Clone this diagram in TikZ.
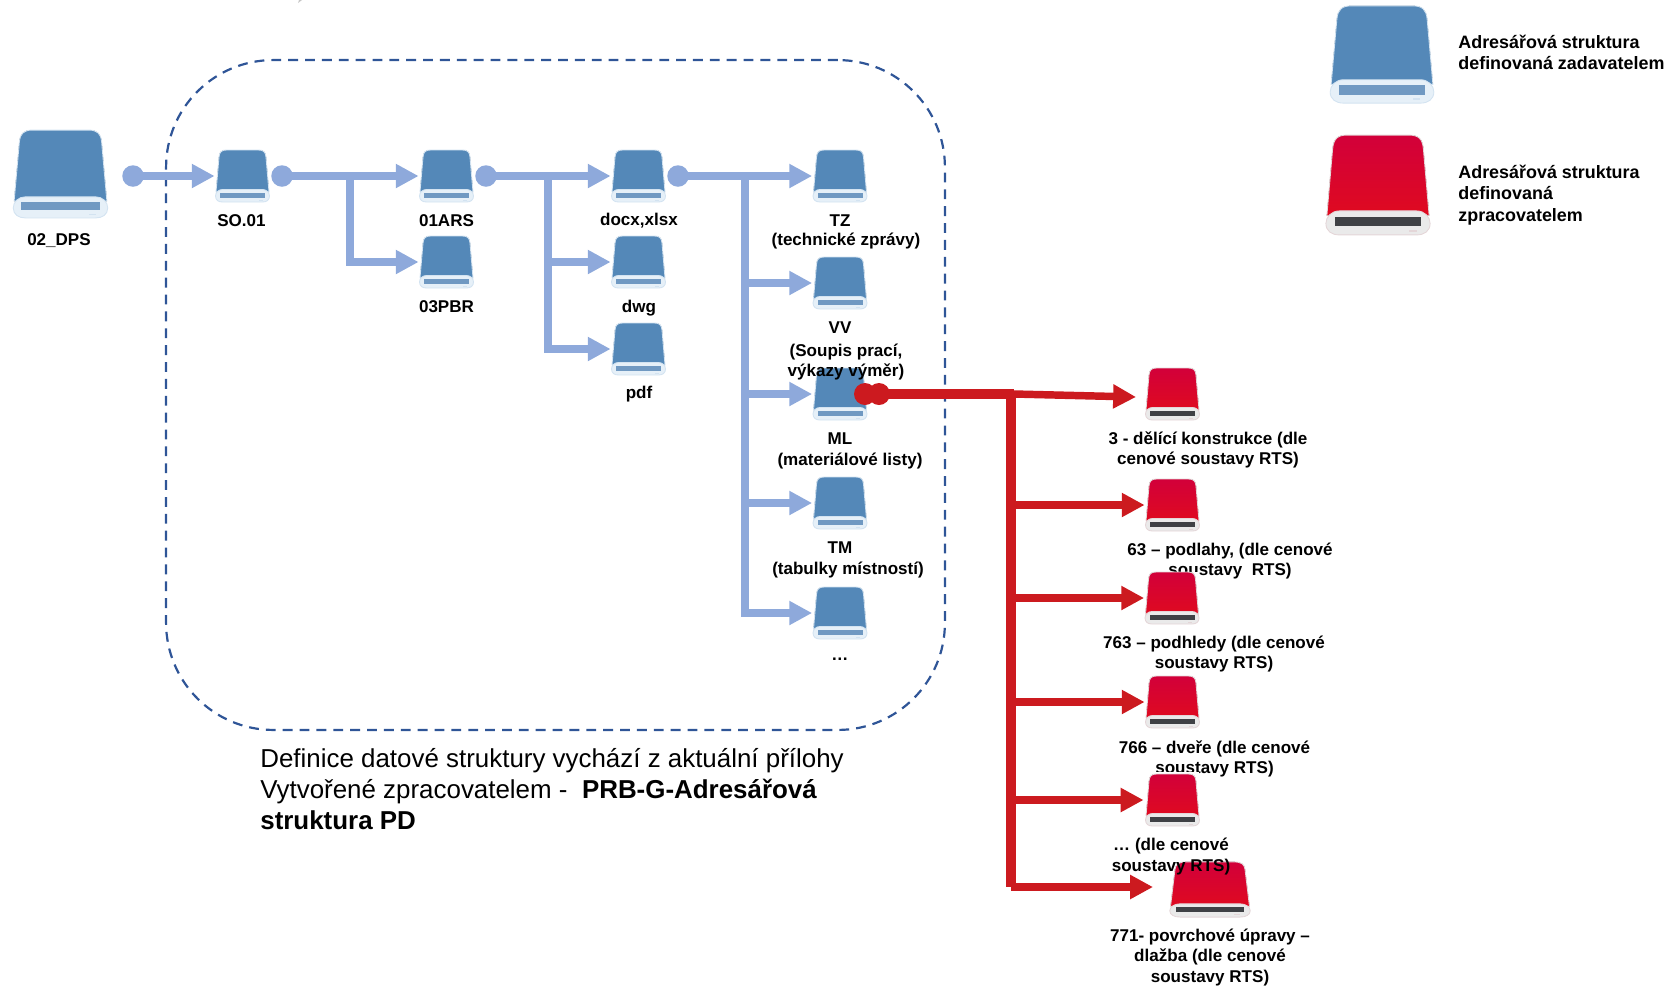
\documentclass[tikz,border=0pt]{standalone}
\usepackage{fontspec}
\setmainfont{Liberation Sans}
\usetikzlibrary{arrows.meta}

\definecolor{bodyb}{HTML}{5488B8}
\definecolor{glowb}{HTML}{5488B8}
\definecolor{trayb}{HTML}{E6F0F8}
\definecolor{slotb}{HTML}{7099C2}
\definecolor{edgeb}{HTML}{D3E3F1}
\definecolor{bodyr}{HTML}{D2003A}
\definecolor{glowr}{HTML}{DF0A20}
\definecolor{trayr}{HTML}{EAEAEA}
\definecolor{slotr}{HTML}{3F4145}
\definecolor{edger}{HTML}{E4D6D8}
\definecolor{linkb}{HTML}{8EA9DB}
\definecolor{linkr}{HTML}{CC1A1F}
\definecolor{framec}{HTML}{2F5597}

\tikzset{
    drivebox/.style={inner sep=0pt,minimum width=1.06cm,minimum height=1.04cm,transform shape},
    drivelabel/.style={inner sep=0pt,align=center,font=\fontsize{9.7}{11.6}\selectfont\bfseries},
    sidelabel/.style={drivelabel,anchor=west,align=left,font=\fontsize{10.2}{12.1}\selectfont\bfseries},
    dotb/.style={circle,fill=linkb,inner sep=0pt,minimum size=.43cm},
    dotr/.style={circle,fill=linkr,inner sep=0pt,minimum size=.44cm},
    linkblue/.style={draw=linkb,line width=4.25pt,-{Triangle[length=13pt,width=13pt]},shorten >=.6pt},
    linkred/.style={draw=linkr,line width=4.25pt,-{Triangle[length=13pt,width=13pt]}},
    trunkred/.style={draw=linkr,line width=5.7pt}
}

% #1 scales, #2 name, #3 position, #4 b or r
\newcommand{\drive}[4][]{
    \begin{scope}[shift={#3},#1]
        \fill[top color=body#4,bottom color=glow#4,draw=edge#4,line width=.5pt]
            (-26.5,16) -- (-23.5,-19) .. controls (-23,-24) and (-21,-26) .. (-16,-26)
            -- (16,-26) .. controls (21,-26) and (23,-24) .. (23.5,-19) -- (26.5,16) -- cycle;
        \fill[tray#4,draw=edge#4,line width=.5pt]
            (-20,13.5) -- (20,13.5) .. controls (24,13.5) and (27,16.5) .. (27,20)
            .. controls (27,24) and (24,26) .. (20,26) -- (-20,26)
            .. controls (-24,26) and (-27,24) .. (-27,20)
            .. controls (-27,16.5) and (-24,13.5) .. (-20,13.5) -- cycle;
        \fill[slot#4] (-22.5,16.5) rectangle (22.5,21.5);
        \fill[edge#4] (16,23.5) rectangle (20,24.5);
        \node[drivebox] (#2) at (0,0) {};
    \end{scope}
}

\begin{document}
\begin{tikzpicture}[x=.02cm,y=-.02cm]
        \useasboundingbox (0,0) rectangle (1677,985);

        % Frame
        \node[draw=framec,line width=1.25pt,dash pattern=on 5.6pt off 4pt,rounded corners=61pt,
              minimum width=15.58cm,minimum height=13.4cm,inner sep=0pt] (frame) at (555.5,395) {};
        \fill[gray!45] (298,3) -- (302,0) -- (299,0) -- cycle;

        % Labels the drives cut
        \node[drivelabel] (lbpodl) at (1230,561) {63 – podlahy, (dle cenové\\soustavy\ \ RTS)};
        \node[drivelabel] (lbdver) at (1214.5,759) {766 – dveře (dle cenové\\soustavy RTS)};
        \fill[white] (1145,571.5) rectangle (1199,575);
        \fill[white] (1146,772) rectangle (1199,776);

        % Blue drives
        \drive[xscale=1.75,yscale=1.69]{dps}{(60.5,174)}{b}
        \drive{so}{(242.5,176)}{b}
        \drive{ars}{(446.5,176)}{b}
        \drive{pbr}{(446.5,262)}{b}
        \drive{docx}{(638.5,176)}{b}
        \drive{dwg}{(638.5,262)}{b}
        \drive{pdf}{(638.5,349)}{b}
        \drive{tz}{(840,176)}{b}
        \drive{vv}{(840,283)}{b}
        \drive{ml}{(840,394)}{b}
        \drive{tm}{(840,503)}{b}
        \drive{dots}{(840,613)}{b}

        % Red drives
        \drive{del}{(1172.5,394)}{r}
        \drive{podl}{(1172.5,505)}{r}
        \drive{podh}{(1172,598)}{r}
        \drive{dver}{(1172.5,702)}{r}
        \drive{ost}{(1172.5,800)}{r}
        \drive[xscale=1.49,yscale=1.06]{pov}{(1210,889.5)}{r}

        % Legend
        \drive[xscale=1.92,yscale=1.87]{keyb}{(1382,54.5)}{b}
        \drive[xscale=1.93,yscale=1.92]{keyr}{(1378,185)}{r}

        % Dots
        \node[dotb] (d1) at (133,176) {};
        \node[dotb] (d2) at (282,176) {};
        \node[dotb] (d3) at (486,176) {};
        \node[dotb] (d4) at (678,176) {};
        \node[dotr] (r1) at (865,394) {};
        \node[dotr] (r2) at (879,394) {};

        \coordinate (j2) at (350,176);
        \coordinate (j3) at (548,176);
        \coordinate (j4) at (745,176);
        \coordinate (jr) at (1011,394);
        \coordinate (jrend) at (1011,887);
        \coordinate (jrout) at (1014,394);
        \coordinate (delin) at (1136,397);
        \coordinate (povin) at (1153,887);

        \draw[linkblue] (d1.center) -- (so);
        \draw[linkblue] (d2.center) -- (ars);
        \draw[linkblue] (j2) |- (pbr);
        \draw[linkblue] (d3.center) -- (docx);
        \draw[linkblue] (j3) |- (dwg);
        \draw[linkblue] (j3) |- (pdf);
        \draw[linkblue] (d4.center) -- (tz);
        \draw[linkblue] (j4) |- (vv);
        \draw[linkblue] (j4) |- (ml);
        \draw[linkblue] (j4) |- (tm);
        \draw[linkblue] (j4) |- (dots);

        \draw[trunkred] (r2.center) -- (jrout);
        \draw[trunkred] (jr) -- (jrend);
        \draw[linkred] (jrout) -- (delin);
        \draw[linkred,shorten >=.6pt] (jr |- podl) -- (podl);
        \draw[linkred,shorten >=.6pt] (jr |- podh) -- (podh);
        \draw[linkred,shorten >=.6pt] (jr |- dver) -- (dver);
        \draw[linkred,shorten >=1.2pt] (jr |- ost) -- (ost);
        \draw[linkred] (jrend) -- (povin);

        % Labels
        \node[drivelabel] (lbdps) at (59,240.5) {02\_DPS};
        \node[drivelabel] (lbso) at (241.5,221) {SO.01};
        \node[drivelabel] (lbars) at (446.5,221) {01ARS};
        \node[drivelabel] (lbpbr) at (446.5,307) {03PBR};
        \node[drivelabel] (lbdocx) at (639,221) {docx,xlsx};
        \node[drivelabel] (lbdwg) at (639,308) {dwg};
        \node[drivelabel] (lbpdf) at (639,394) {pdf};
        \node[drivelabel] (lbtz) at (840,221) {TZ};
        \node[drivelabel] (lbtzs) at (846,241) {(technické zprávy)};
        \node[drivelabel] (lbvv) at (840,328) {VV};
        \node[drivelabel] (lbvvs) at (846,362) {(Soupis prací,\\výkazy výměr)};
        \node[drivelabel] (lbml) at (840,439) {ML};
        \node[drivelabel] (lbmls) at (850,461) {(materiálové listy)};
        \node[drivelabel] (lbtm) at (840,548) {TM};
        \node[drivelabel] (lbtms) at (848,570) {(tabulky místností)};
        \node[drivelabel] (lbdots) at (840,659) {…};

        \node[drivelabel] (lbdel) at (1208,450) {3 - dělící konstrukce (dle\\cenové soustavy RTS)};
        \node[drivelabel] (lbpodh) at (1214,654) {763 – podhledy (dle cenové\\soustavy RTS)};
        \node[drivelabel] (lbost) at (1171,856.5) {… (dle cenové\\soustavy RTS)};
        \node[drivelabel] (lbpov) at (1210,957.5) {771- povrchové úpravy –\\dlažba (dle cenové\\soustavy RTS)};

        \node[sidelabel] (keybt) at (1458,52.5) {Adresářová struktura\\definovaná zadavatelem};
        \node[sidelabel] (keyrt) at (1458,195) {Adresářová struktura\\definovaná\\zpracovatelem};

        \node[inner sep=0pt,anchor=west,align=left,font=\fontsize{14.75}{17.6}\selectfont] (note) at (260,789)
            {Definice datové struktury vychází z aktuální přílohy\\
             Vytvořené zpracovatelem -\ \ \textbf{PRB-G-Adresářová}\\
             \textbf{struktura PD}};
\end{tikzpicture}
\end{document}
